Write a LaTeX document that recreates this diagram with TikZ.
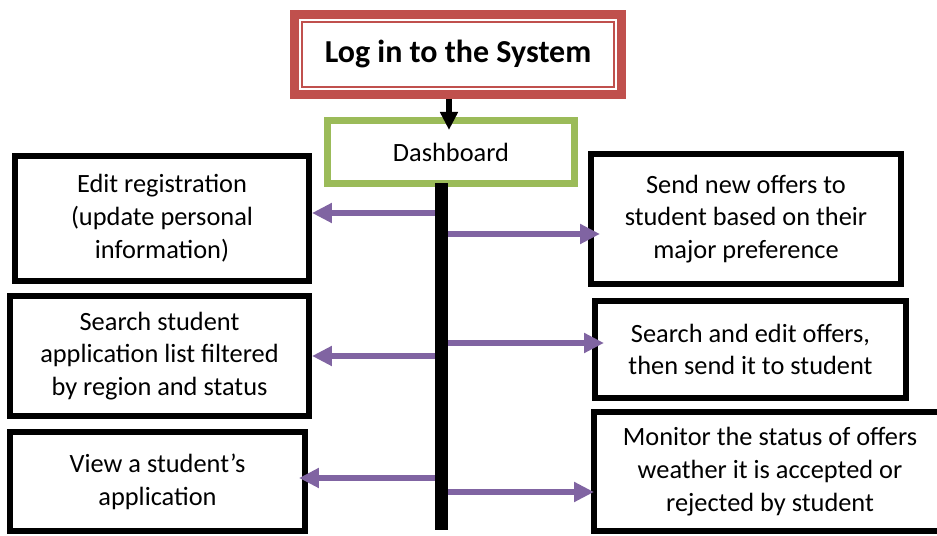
\documentclass[tikz,border=0pt]{standalone}
\usepackage{fontspec}
\setmainfont{Carlito}
\usetikzlibrary{arrows.meta, positioning}
\definecolor{loginred}{HTML}{C0504D}
\definecolor{dashgreen}{HTML}{9BBB59}
\definecolor{flowpurple}{HTML}{8064A2}

\begin{document}
\begin{tikzpicture}[font=\fontsize{15}{18.7}\selectfont,
    task/.style={draw, line width=3.4pt, align=center, inner sep=0pt},
    flow/.style={-{Triangle[length=0.4cm, width=0.38cm]}, flowpurple, line width=3.6pt},
    down/.style={-{Triangle[length=0.36cm, width=0.34cm]}, line width=3.4pt}]
    \useasboundingbox (0,0) rectangle (18.74,10.72);
    \clip (0,0) rectangle (18.74,10.72);
    \node[draw=loginred, line width=5.1pt, minimum width=6.54cm, minimum height=1.6cm,
        font=\fontsize{18.2}{22}\selectfont\bfseries] (login) at (9.16,9.63) {Log in to the System};
    \draw[loginred, line width=1.1pt] ([shift={(0.24,0.24)}]login.south west) rectangle ([shift={(-0.24,-0.24)}]login.north east);
    \node[draw=dashgreen, line width=4pt, minimum width=4.94cm, minimum height=1.26cm] (dash) at (9.02,7.68) {Dashboard};
    \coordinate (tip) at (8.98,8.12);
    \draw[down] (login.south -| tip) -- (tip);
    \node[fill=black, inner sep=0pt, minimum width=0.26cm, minimum height=6.94cm] (bar) at (8.83,3.59) {};

    \node[task, minimum width=5.88cm, minimum height=2.50cm] (edit) at (3.24,6.35) {Edit registration\\(update personal\\information)};
    \node[task, minimum width=5.98cm, minimum height=2.40cm] (search) at (3.19,3.60) {Search student\\application list filtered\\by region and status};
    \node[task, minimum width=5.90cm, minimum height=1.98cm] (view) at (3.15,1.09) {View a student’s\\application};
    \node[task, minimum width=6.20cm, minimum height=2.60cm] (send) at (14.92,6.34) {Send new offers to\\student based on their\\major preference};
    \node[task, minimum width=6.22cm, minimum height=1.94cm] (offers) at (15.01,3.73) {Search and edit offers,\\then send it to student};
    \node[task, minimum width=7.04cm, minimum height=2.38cm] (monitor) at (15.40,1.29) {Monitor the status of offers\\weather it is accepted or\\rejected by student};

    \draw[flow] (bar.west |- 0,6.46) -- (edit.east |- 0,6.46);
    \draw[flow] (bar.west |- 0,3.60) -- (search.east |- 0,3.60);
    \draw[flow] (bar.west |- 0,1.16) -- ([xshift=-0.18cm]view.east |- 0,1.16);
    \draw[flow] (bar.east |- 0,6.04) -- ([xshift=0.24cm]send.west |- 0,6.04);
    \draw[flow] (bar.east |- 0,3.86) -- ([xshift=0.24cm]offers.west |- 0,3.86);
    \draw[flow] (bar.east |- 0,0.88) -- ([xshift=0.06cm]monitor.west |- 0,0.88);
\end{tikzpicture}
\end{document}
